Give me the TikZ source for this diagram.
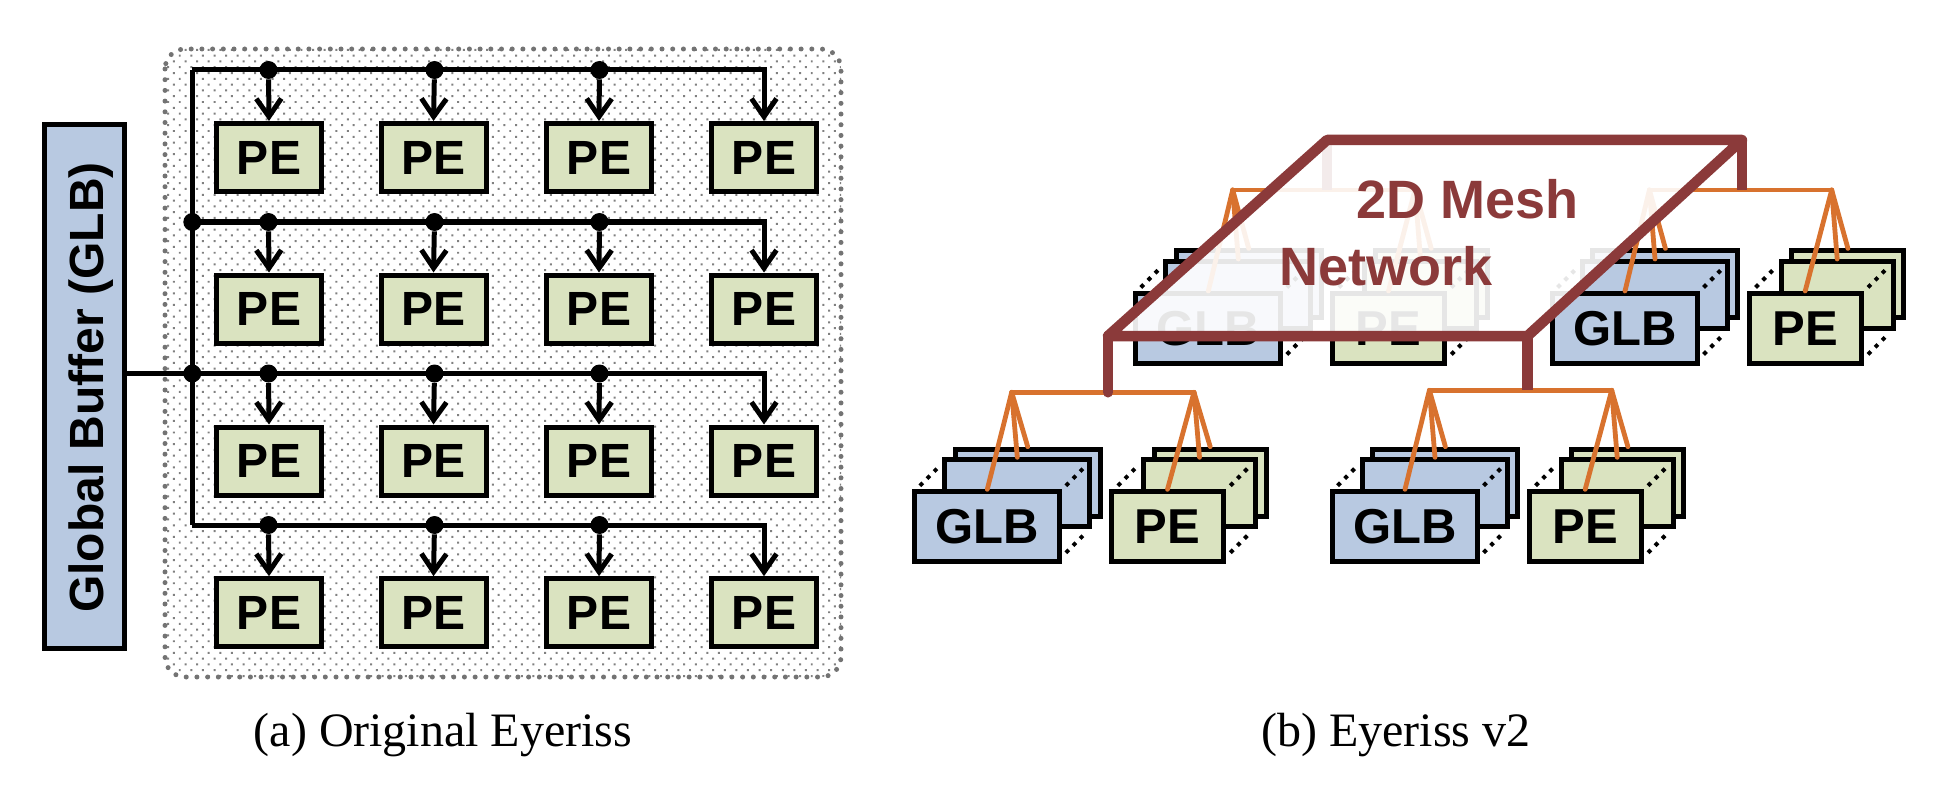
\documentclass[tikz,border=0pt]{standalone}
\usepackage{fontspec}
\setmainfont{Liberation Serif}
\setsansfont{Liberation Sans}
\usetikzlibrary{arrows.meta,patterns.meta}

\definecolor{glbblue}{HTML}{B8C9E1}
\definecolor{pegreen}{HTML}{DAE3C0}
\definecolor{noclink}{HTML}{D8722E}
\definecolor{meshred}{HTML}{8B3A3A}

\tikzset{
  boxtext/.style={font=\sffamily\bfseries\fontsize{24.5pt}{24.5pt}\selectfont},
  meshtext/.style={text=meshred,font=\sffamily\bfseries\fontsize{27pt}{27pt}\selectfont},
  pebox/.style={draw,line width=2.5pt,fill=pegreen,inner sep=0pt,boxtext,
    font=\sffamily\bfseries\fontsize{24pt}{24pt}\selectfont,
    minimum width=52.5pt,minimum height=34pt},
  glbtile/.style={draw,line width=2.5pt,fill=glbblue,inner sep=0pt,boxtext,anchor=north west,
    minimum width=72.5pt,minimum height=33.5pt},
  petile/.style={glbtile,fill=pegreen,minimum width=56pt},
  bus/.style={line width=2.5pt},
  busdot/.style={circle,fill=black,inner sep=0pt,minimum size=9pt},
  noc/.style={line width=2.4pt,noclink,line cap=round},
  mesh/.style={line width=5.25pt,meshred,line join=round},
  tiledots/.style={line width=2pt,line cap=rect,dash pattern=on 0.01pt off 5pt},
  caption/.style={font=\fontsize{24pt}{24pt}\selectfont},
  tip/.style={-{Straight Barb[length=9pt,width=12.5pt]}}
}

% one cluster: three GLB tiles, three PE tiles, orange tree on top
\newcommand{\cluster}[4]{
  \begin{scope}[shift={(#2,#3)}]
    \node[glbtile] (#1gc) at (40.4,-42.6) {};
    \node[glbtile] (#1gb) at (30,-32) {};
    \node[glbtile,minimum height=35pt] (#1ga) at (0,0) {GLB};
    \node[petile] (#1pc) at (239.4,-42.6) {};
    \node[petile] (#1pb) at (228.7,-32) {};
    \node[petile,minimum height=35pt] (#1pa) at (196.7,0) {PE};
    % stack dots
    \foreach \dx/\dy in {9/-5,155/62,155/-5,207/-5,319.4/62,319.4/-5}
      \draw[tiledots] (\dx,\dy) -- ++(14.2,-14.2);
    % tree
    \coordinate (#1hg) at (99.4,#4);
    \coordinate (#1hp) at (281.7,#4);
    \draw[noc] (#1hg) -- (#1hp);
    \foreach \k in {a,b,c} {
      \draw[noc] (#1hg) -- (#1g\k.north);
      \draw[noc] (#1hp) -- (#1p\k.north);
    }
  \end{scope}
}

\begin{document}
\begin{tikzpicture}[x=0.5pt,y=-0.5pt]
  \useasboundingbox (0,0) rectangle (1956,792);
  % (a) dotted panel
  \draw[gray!90!black,line width=2.5pt,line cap=round,dash pattern=on 0pt off 5.35pt,
    rounded corners=10pt,preaction={pattern={Dots[radius=0.7pt,distance=4.1pt,angle=45]},
    pattern color=gray}] (165,49) rectangle (841,677);
  % global buffer
  \node[draw,line width=2.5pt,fill=glbblue,inner sep=0pt,minimum width=40pt,minimum height=261.5pt]
    (glb) at (84.8,386.5) {};
  \node[font=\sffamily\bfseries\fontsize{24pt}{24pt}\selectfont,rotate=90] (glbtext) at (91,387.5)
    {Global Buffer (GLB)};
  % PE array
  \foreach \row/\py/\ry in {1/157.5/70,2/309/222,3/461/373.5,4/612.7/525} {
    \coordinate (rail\row) at (192.3,\ry);
    \foreach \col/\px in {1/269,2/433.5,3/599,4/764}
      \node[pebox] (pe\row\col) at (\px,\py) {PE};
    \draw[bus,tip] (rail\row) -| (pe\row4.north);
    \foreach \col/\px in {1/268.5,2/434.5,3/599.5} {
      \node[busdot] (tap\row\col) at (\px,\ry) {};
      \draw[bus,tip] (tap\row\col) -- (pe\row\col.north);
    }
  }
  % rail and feed from the buffer
  \draw[bus] (rail1) -- (rail4);
  \draw[bus] (glb.east |- rail3) -- (rail3);
  \node[busdot] (rdot2) at (rail2) {};
  \node[busdot] (rdot3) at (rail3) {};
  \node[caption] (capa) at (443,735) {(a) Original Eyeriss};
  % (b) mesh corners
  \coordinate (tl) at (1327,140);
  \coordinate (tr) at (1742,140);
  \coordinate (br) at (1527.5,336);
  \coordinate (bl) at (1108,336);
  % back clusters, under the plane
  \cluster{bl}{1133.3}{291}{-101}
  \cluster{br}{1550}{291}{-101}
  \draw[mesh] (tl) -- (tl |- blhg);
  \draw[mesh] (tr) -- (tr |- brhg);
  % the plane
  \draw[mesh,fill=white,fill opacity=0.9,draw opacity=1] (tl) -- (tr) -- (br) -- (bl) -- cycle;
  \node[meshtext] (meshtop) at (1467.5,199) {2D Mesh};
  \node[meshtext] (meshlow) at (1386,266) {Network};
  % front clusters
  \cluster{fl}{912.3}{489.3}{-97}
  \cluster{fr}{1330}{489.3}{-99}
  \draw[mesh,line cap=round] (bl) -- (bl |- flhg);
  \draw[mesh] (br) -- (br |- frhg);
  \node[caption] (capb) at (1396,735) {(b) Eyeriss v2};
\end{tikzpicture}
\end{document}
